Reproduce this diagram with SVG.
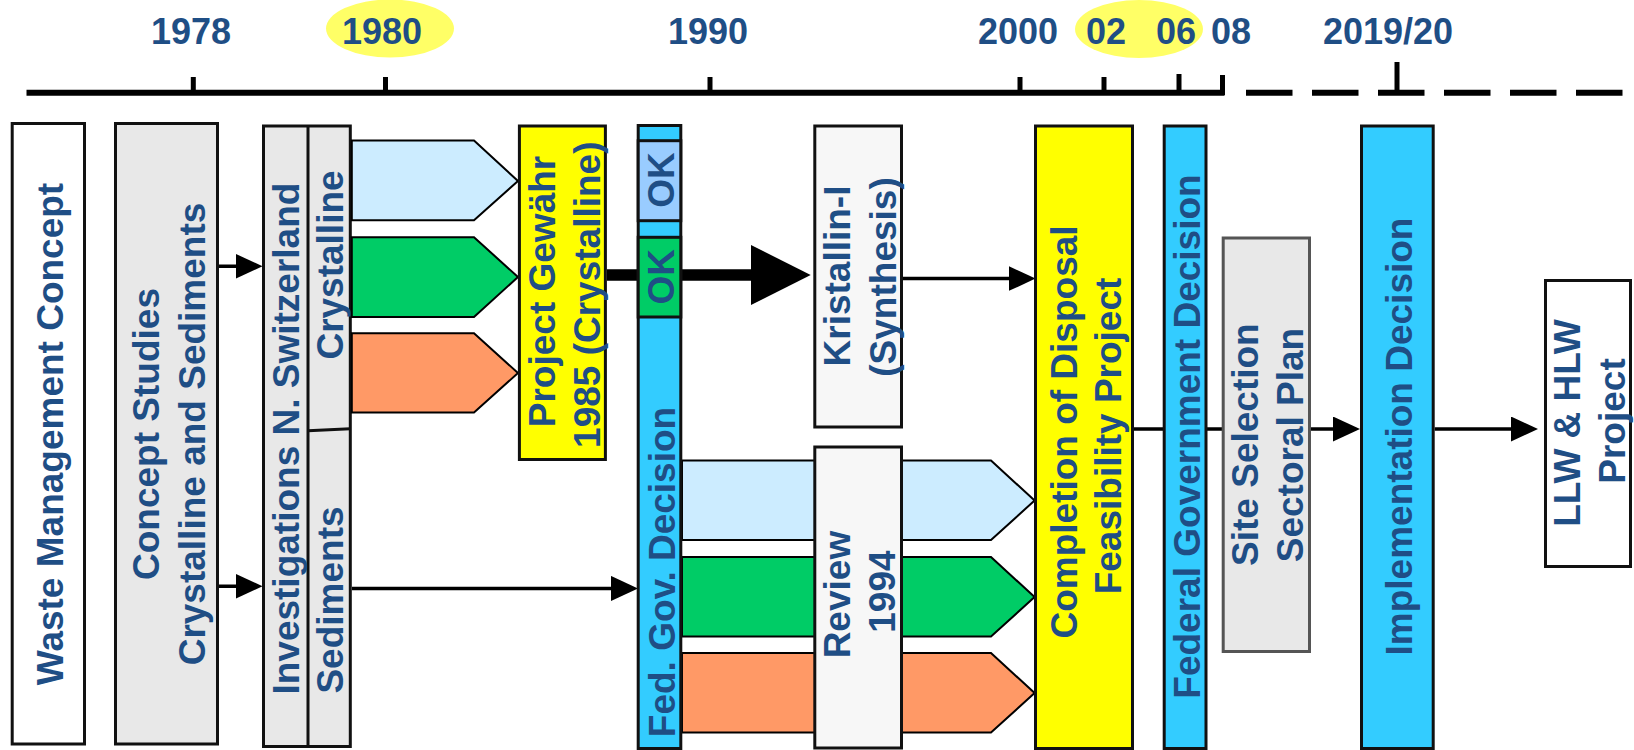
<svg xmlns="http://www.w3.org/2000/svg" width="1634" height="750" viewBox="0 0 1634 750">
  <defs>
    <style>
      .lbl { font-family: "Liberation Sans", Arial, sans-serif; font-weight: bold; font-size: 37px; fill: #1F4E85; text-anchor: middle; }
      .year { font-family: "Liberation Sans", Arial, sans-serif; font-weight: bold; font-size: 36px; fill: #1F4E85; text-anchor: middle; }
      .box { stroke: #111; stroke-width: 3; }
      .chev { stroke: #000; stroke-width: 2; stroke-linejoin: miter; }
      .axis { stroke: #000; stroke-width: 6; fill: none; }
      .tick { stroke: #000; stroke-width: 5; }
      .conn { stroke: #000; stroke-width: 3.5; fill: none; }
      .white { fill: #FFFFFF; }
      .grey { fill: #E8E8E8; }
      .pale { fill: #F7F7F7; }
      .yellow { fill: #FFFF00; }
      .cyan { fill: #33CCFF; }
      .okblue { fill: #99CCFF; }
      .sky { fill: #CCECFF; }
      .green { fill: #00CC66; }
      .orange { fill: #FF9966; }
    </style>
    <marker id="arrow" viewBox="0 0 27 25" refX="17" refY="12.5" markerWidth="27" markerHeight="25" markerUnits="userSpaceOnUse" orient="auto">
      <path d="M0,0 L27,12.5 L0,25 Z" fill="#000"/>
    </marker>
  </defs>

  <rect width="1634" height="750" fill="#FFFFFF"/>

  <!-- time axis -->
  <g id="timeline">
    <ellipse cx="390" cy="28.5" rx="64" ry="29" fill="#FFFF66"/>
    <ellipse cx="1139" cy="29" rx="64" ry="29" fill="#FFFF66"/>
    <text class="year" x="191" y="43.5">1978</text>
    <text class="year" x="382" y="43.5">1980</text>
    <text class="year" x="708" y="43.5">1990</text>
    <text class="year" x="1018" y="43.5">2000</text>
    <text class="year" x="1106" y="43.5">02</text>
    <text class="year" x="1176" y="43.5">06</text>
    <text class="year" x="1231" y="43.5">08</text>
    <text class="year" x="1388" y="43.5">2019/20</text>
    <line class="axis" x1="26.5" y1="92.7" x2="1224.5" y2="92.7"/>
    <line class="tick" x1="193.3" y1="77" x2="193.3" y2="93"/>
    <line class="tick" x1="385.5" y1="77" x2="385.5" y2="93"/>
    <line class="tick" x1="710" y1="77" x2="710" y2="93"/>
    <line class="tick" x1="1020" y1="77" x2="1020" y2="93"/>
    <line class="tick" x1="1104" y1="77" x2="1104" y2="93"/>
    <line class="tick" x1="1179" y1="74" x2="1179" y2="93"/>
    <line class="tick" x1="1222.5" y1="75" x2="1222.5" y2="95"/>
    <line class="axis" x1="1246" y1="92.7" x2="1623" y2="92.7" stroke-dasharray="46.5 19.5"/>
    <line class="tick" x1="1397" y1="62" x2="1397" y2="93"/>
  </g>

  <!-- connectors -->
  <g id="connectors">
    <line class="conn" x1="218.6" y1="266.3" x2="252.5" y2="266.3" marker-end="url(#arrow)"/>
    <line class="conn" x1="218.6" y1="586.3" x2="252.5" y2="586.3" marker-end="url(#arrow)"/>
    <line class="conn" x1="352" y1="588.4" x2="628" y2="588.4" marker-end="url(#arrow)"/>
    <line x1="607" y1="275" x2="760" y2="275" stroke="#000" stroke-width="11.4"/>
    <path d="M751,245 L810.7,275 L751,305 Z" fill="#000"/>
    <line class="conn" x1="903" y1="278.6" x2="1025.5" y2="278.6" marker-end="url(#arrow)"/>
    <line class="conn" x1="1134" y1="429" x2="1222" y2="429"/>
    <line class="conn" x1="1311" y1="429" x2="1350" y2="429" marker-end="url(#arrow)"/>
    <line class="conn" x1="1434.7" y1="429" x2="1528" y2="429" marker-end="url(#arrow)"/>
  </g>

  <g id="waste-management-concept">
    <rect class="box white" x="12.2" y="123.5" width="72.3" height="620.5"/>
    <text class="lbl" transform="translate(62.5,434) rotate(-90)">Waste Management Concept</text>
  </g>

  <g id="concept-studies">
    <rect class="box grey" x="115.5" y="123.5" width="102" height="620.5"/>
    <text class="lbl" transform="translate(159,434) rotate(-90)">Concept Studies</text>
    <text class="lbl" transform="translate(204.5,434) rotate(-90)">Crystalline and Sediments</text>
  </g>

  <g id="investigations">
    <rect class="box grey" x="263.5" y="126" width="86.8" height="620.5"/>
    <line class="box" x1="308" y1="126" x2="308" y2="746.5"/>
    <line class="box" x1="308" y1="430.7" x2="350.3" y2="428.7"/>
    <text class="lbl" transform="translate(299,438.6) rotate(-90)">Investigations N. Switzerland</text>
    <text class="lbl" transform="translate(343,265) rotate(-90)">Crystalline</text>
    <text class="lbl" transform="translate(343,600) rotate(-90)">Sediments</text>
  </g>

  <g id="crystalline-streams">
    <path class="chev sky" d="M351.8,140.6 H474 L518,181 L474,220.2 H351.8 Z"/>
    <path class="chev green" d="M351.8,237.3 H474 L518,277 L474,317 H351.8 Z"/>
    <path class="chev orange" d="M351.8,333.3 H474 L518,373 L474,412.5 H351.8 Z"/>
  </g>

  <g id="project-gewaehr">
    <rect class="box yellow" x="519.4" y="126" width="86" height="333.5"/>
    <text class="lbl" transform="translate(555,291.5) rotate(-90)">Project Gewähr</text>
    <text class="lbl" transform="translate(599.5,294.7) rotate(-90)">1985 (Crystalline)</text>
  </g>

  <g id="feasibility-streams">
    <path class="chev sky" d="M682,460.5 H991 L1034.6,500.5 L991,540 H682 Z"/>
    <path class="chev green" d="M682,557 H991 L1034.6,597 L991,636.5 H682 Z"/>
    <path class="chev orange" d="M682,653 H991 L1034.6,693 L991,732.5 H682 Z"/>
  </g>

  <g id="fed-gov-decision">
    <rect class="box cyan" x="638.2" y="125.5" width="42.6" height="623"/>
    <rect class="box okblue" x="638.2" y="140.7" width="42.6" height="80"/>
    <rect class="box green" x="638.2" y="237.3" width="42.6" height="79.7"/>
    <text class="lbl" transform="translate(674,180) rotate(-90)">OK</text>
    <text class="lbl" transform="translate(674,276.7) rotate(-90)">OK</text>
    <text class="lbl" transform="translate(675,572) rotate(-90)">Fed. Gov. Decision</text>
  </g>

  <g id="kristallin-i">
    <rect class="box pale" x="814.8" y="126" width="86.7" height="301"/>
    <text class="lbl" transform="translate(850,276) rotate(-90)">Kristallin-I</text>
    <text class="lbl" transform="translate(896,277) rotate(-90)">(Synthesis)</text>
  </g>

  <g id="review-1994">
    <rect class="box pale" x="814.8" y="447" width="86.7" height="301"/>
    <text class="lbl" transform="translate(850,594.6) rotate(-90)">Review</text>
    <text class="lbl" transform="translate(894.6,591.6) rotate(-90)">1994</text>
  </g>

  <g id="completion">
    <rect class="box yellow" x="1035.5" y="126" width="97" height="622.5"/>
    <text class="lbl" transform="translate(1077,432) rotate(-90)">Completion of Disposal</text>
    <text class="lbl" transform="translate(1121,436) rotate(-90)">Feasibility Project</text>
  </g>

  <g id="federal-government-decision">
    <rect class="box cyan" x="1164.2" y="126" width="41.8" height="622.5"/>
    <text class="lbl" transform="translate(1200,436.5) rotate(-90)">Federal Government Decision</text>
  </g>

  <g id="site-selection">
    <rect class="grey" x="1223.2" y="238" width="86.3" height="413.5" stroke="#555" stroke-width="3"/>
    <text class="lbl" transform="translate(1258,444.6) rotate(-90)">Site Selection</text>
    <text class="lbl" transform="translate(1303,445) rotate(-90)">Sectoral Plan</text>
  </g>

  <g id="implementation-decision">
    <rect class="box cyan" x="1361.5" y="126" width="71.7" height="622.5"/>
    <text class="lbl" transform="translate(1412,436.5) rotate(-90)">Implementation Decision</text>
  </g>

  <g id="llw-hlw-project">
    <rect class="box white" x="1545.5" y="280.5" width="85" height="286"/>
    <text class="lbl" transform="translate(1580,423) rotate(-90)">LLW &amp; HLW</text>
    <text class="lbl" transform="translate(1625,421) rotate(-90)">Project</text>
  </g>
</svg>
